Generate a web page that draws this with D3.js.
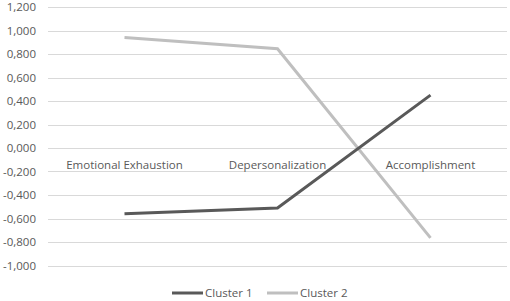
<!DOCTYPE html>
<html>
<head>
<meta charset="utf-8">
<script src="https://cdn.jsdelivr.net/npm/d3@7"></script>
<style>
  body { margin: 0; background: #fff; }
  text { font-family: "Open Sans", "Liberation Sans", sans-serif; }
</style>
</head>
<body>
<script>
// categories and series
var categories = ["Emotional Exhaustion", "Depersonalization", "Accomplishment"];
var cluster1 = [-0.56, -0.51, 0.45];
var cluster2 = [0.94, 0.845, -0.765];
var seriesNames = ["Cluster 1", "Cluster 2"];
var yTicks = [1.2, 1.0, 0.8, 0.6, 0.4, 0.2, 0, -0.2, -0.4, -0.6, -0.8, -1.0];

var W = 510, H = 301;
var plotLeft = 48, plotRight = 507, plotTop = 7, plotBottom = 265.5;

var svg = d3.select("body").append("svg")
    .attr("width", W)
    .attr("height", H);

var x = d3.scaleBand().domain(categories).range([plotLeft, plotRight]);
var y = d3.scaleLinear().domain([-1.0, 1.2]).range([plotBottom, plotTop]);

var fmt = function(d) {
  return d3.format(",.3f")(d).replace("−", "-").replace(".", ",");
};

// gridlines
svg.append("g").selectAll("line")
  .data(yTicks)
  .enter().append("line")
    .attr("x1", plotLeft).attr("x2", plotRight)
    .attr("y1", function(d) { return Math.round(y(d)) + 0.5; })
    .attr("y2", function(d) { return Math.round(y(d)) + 0.5; })
    .attr("stroke", "#d9d9d9")
    .attr("stroke-width", 1);

// y labels
svg.append("g").selectAll("text")
  .data(yTicks)
  .enter().append("text")
    .attr("x", 36)
    .attr("y", function(d) { return y(d) + 4; })
    .attr("text-anchor", "end")
    .attr("font-size", "11.5px")
    .attr("fill", "#595959")
    .text(fmt);

// category labels sit just under the zero line
svg.append("g").selectAll("text")
  .data(categories)
  .enter().append("text")
    .attr("x", function(d) { return x(d) + x.bandwidth() / 2; })
    .attr("y", y(0) + 21)
    .attr("text-anchor", "middle")
    .attr("font-size", "11.5px")
    .attr("fill", "#595959")
    .text(function(d) { return d; });

var line = d3.line()
  .x(function(d, i) { return x(categories[i]) + x.bandwidth() / 2; })
  .y(function(d) { return y(d); });

var colors = ["#595959", "#bfbfbf"];

svg.append("path")
  .datum(cluster2)
  .attr("d", line)
  .attr("fill", "none")
  .attr("stroke", colors[1])
  .attr("stroke-width", 3);

svg.append("path")
  .datum(cluster1)
  .attr("d", line)
  .attr("fill", "none")
  .attr("stroke", colors[0])
  .attr("stroke-width", 3);

// legend
var legendX = [172, 267];
var lg = svg.append("g").selectAll("g")
  .data(seriesNames)
  .enter().append("g")
    .attr("transform", function(d, i) { return "translate(" + legendX[i] + ",293)"; });

lg.append("line")
  .attr("x1", 0).attr("x2", 31)
  .attr("y1", 0).attr("y2", 0)
  .attr("stroke", function(d, i) { return colors[i]; })
  .attr("stroke-width", 3);

lg.append("text")
  .attr("x", 33)
  .attr("y", 4)
  .attr("font-size", "11.5px")
  .attr("fill", "#595959")
  .text(function(d) { return d; });
</script>
</body>
</html>
